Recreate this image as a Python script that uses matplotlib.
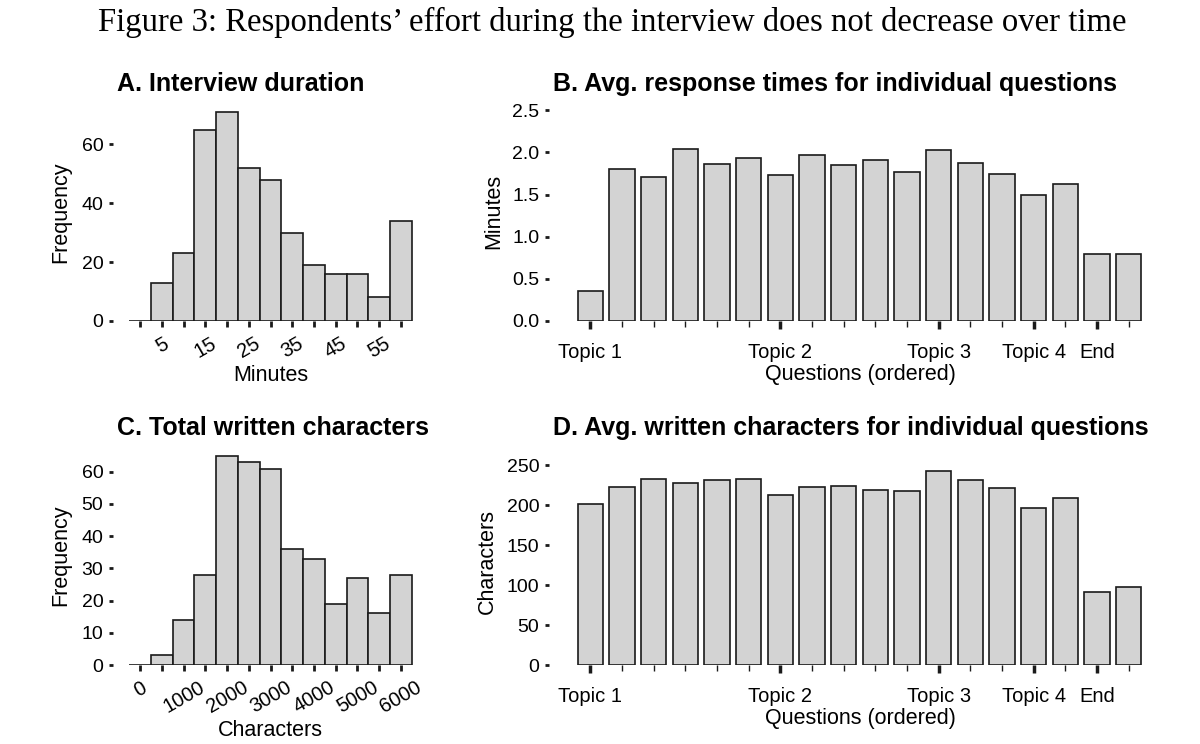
import numpy as np
import matplotlib.pyplot as plt

# Panel A: interview duration histogram (bin centres, minutes)
dur_bins = [0, 5, 10, 15, 20, 25, 30, 35, 40, 45, 50, 55, 60]
dur_counts = [0, 13, 23, 65, 71, 52, 48, 30, 19, 16, 16, 8, 34]

# Panel C: total written characters histogram (bin centres)
char_bins = [0, 500, 1000, 1500, 2000, 2500, 3000, 3500, 4000, 4500, 5000, 5500, 6000]
char_counts = [0, 3, 14, 28, 65, 63, 61, 36, 33, 19, 27, 16, 28]

# Panels B and D: per-question averages (18 questions in order)
questions = list(range(1, 19))
q_minutes = [0.36, 1.80, 1.71, 2.04, 1.86, 1.93, 1.73, 1.97, 1.85, 1.91,
             1.77, 2.03, 1.87, 1.74, 1.49, 1.63, 0.80, 0.79]
q_chars = [201, 222, 232, 227, 231, 233, 212, 222, 224, 219,
           218, 242, 231, 221, 196, 209, 91, 97]
topic_pos = [1, 7, 12, 15, 17]
topic_labels = ["Topic 1", "Topic 2", "Topic 3", "Topic 4", "End"]

plt.rcParams['font.family'] = ['Liberation Sans', 'DejaVu Sans']
W, H = 1200, 744
fig = plt.figure(figsize=(W / 100, H / 100), dpi=100)

FILL = '#d3d3d3'
EDGE = '#1a1a1a'


def add_ax(left, top, right, bottom):
    return fig.add_axes([left / W, 1 - bottom / H, (right - left) / W, (bottom - top) / H])


def style(ax):
    for s in ax.spines.values():
        s.set_visible(False)
    ax.tick_params(axis='y', length=3, width=2, color=EDGE, pad=4, labelsize=14)
    ax.tick_params(axis='x', length=4, width=2, color=EDGE, labelsize=14.5)


def hist_panel(ax, bins, counts, width, labels, ylim, yticks, xlab):
    ax.bar(bins, counts, width=width, color=FILL, edgecolor=EDGE, linewidth=1.2)
    style(ax)
    ax.set_xlim(bins[0] - width / 2 - 0.75 * width, bins[-1] + width / 2 + 0.75 * width)
    ax.set_ylim(*ylim)
    ax.set_yticks(yticks)
    ax.set_xticks(bins)
    ax.set_xticklabels(labels, rotation=30, ha='center', va='top')
    ax.tick_params(axis='x', pad=5.5)
    ax.set_xlabel(xlab, fontsize=15.5, labelpad=2)
    ax.set_ylabel('Frequency', fontsize=15.5, labelpad=7)


def question_panel(ax, vals, ylim, yticks, ylab):
    ax.bar(questions, vals, width=0.8, color=FILL, edgecolor=EDGE, linewidth=1.2)
    style(ax)
    ax.set_xlim(-0.31, 18.45)
    ax.set_ylim(*ylim)
    ax.set_yticks(yticks)
    ax.set_xticks(topic_pos)
    ax.set_xticklabels(topic_labels)
    ax.set_xticks([q for q in questions if q not in topic_pos], minor=True)
    ax.tick_params(axis='x', which='major', length=6, width=2.5, pad=10)
    ax.tick_params(axis='x', which='minor', length=4, width=1, color=EDGE)
    ax.set_xlabel('Questions (ordered)', fontsize=15.5, labelpad=1)
    ax.xaxis.label.set_x(0.524)
    ax.set_ylabel(ylab, fontsize=15.5, labelpad=6)


axA = add_ax(113, 103, 428, 321)
hist_panel(axA, dur_bins, dur_counts, 5,
           [str(b) if b % 10 == 5 else '' for b in dur_bins],
           (0, 74.0), [0, 20, 40, 60], 'Minutes')

axC = add_ax(113, 446, 428, 665)
hist_panel(axC, char_bins, char_counts, 500,
           [str(b) if b % 1000 == 0 else '' for b in char_bins],
           (0, 68.0), [0, 10, 20, 30, 40, 50, 60], 'Characters')

axB = add_ax(549, 102, 1143, 321)
question_panel(axB, q_minutes, (0, 2.598), [0, 0.5, 1.0, 1.5, 2.0, 2.5], 'Minutes')
axB.yaxis.set_major_formatter(plt.FormatStrFormatter('%.1f'))

axD = add_ax(549, 457, 1143, 665)
question_panel(axD, q_chars, (0, 260), [0, 50, 100, 150, 200, 250], 'Characters')

fig.text(117 / W, 1 - 84 / H, 'A. Interview duration', fontsize=18, weight='bold', va='center')
fig.text(553 / W, 1 - 84 / H, 'B. Avg. response times for individual questions',
         fontsize=18, weight='bold', va='center')
fig.text(117 / W, 1 - 428 / H, 'C. Total written characters', fontsize=18, weight='bold', va='center')
fig.text(553 / W, 1 - 428 / H, 'D. Avg. written characters for individual questions',
         fontsize=18, weight='bold', va='center')

fig.text(612 / W, 1 - 22 / H,
         'Figure 3: Respondents\u2019 effort during the interview does not decrease over time',
         fontsize=23.6, family=['Liberation Serif', 'DejaVu Serif'], ha='center', va='center')

fig.savefig('out.png', dpi=100, facecolor='white')
